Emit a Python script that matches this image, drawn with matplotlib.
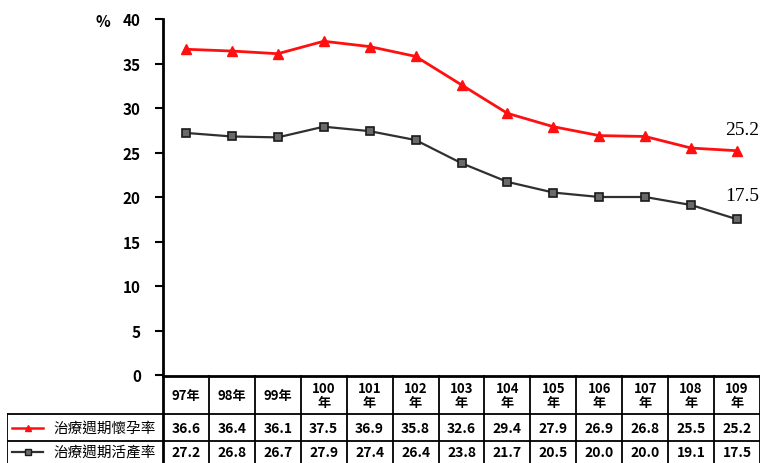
import matplotlib.pyplot as plt

plt.rcParams['font.family'] = ['Noto Sans CJK TC', 'DejaVu Sans']

years = ["97年", "98年", "99年", "100\n年", "101\n年", "102\n年", "103\n年",
         "104\n年", "105\n年", "106\n年", "107\n年", "108\n年", "109\n年"]
pregnancy = [36.6, 36.4, 36.1, 37.5, 36.9, 35.8, 32.6, 29.4, 27.9, 26.9, 26.8, 25.5, 25.2]
live_birth = [27.2, 26.8, 26.7, 27.9, 27.4, 26.4, 23.8, 21.7, 20.5, 20.0, 20.0, 19.1, 17.5]
series_names = ["治療週期懷孕率", "治療週期活產率"]

W, H = 763, 464
fig = plt.figure(figsize=(W / 100, H / 100), dpi=100)

# main line chart, pixel box 163..760 x 20..376
ax = fig.add_axes([163 / W, 1 - 376 / H, (760 - 163) / W, (376 - 20) / H])
x = list(range(len(years)))
ax.plot(x, pregnancy, color='#ff1010', lw=2, marker='^', ms=7, zorder=3)
ax.plot(x, live_birth, color='#303030', lw=1.6, marker='s', ms=5.5,
        mfc='#6a6a6a', mec='#1a1a1a', mew=1.2, zorder=3)
ax.set_xlim(-0.5, len(years) - 0.5)
ax.set_ylim(0, 40)
ax.set_yticks(range(0, 41, 5))
ax.set_xticks([])
for s in ['top', 'right', 'bottom']:
    ax.spines[s].set_visible(False)
ax.spines['left'].set_linewidth(2)
ax.tick_params(axis='y', direction='out', length=6, width=1.5, pad=10)
for lbl in ax.get_yticklabels():
    lbl.set_fontweight('bold')
    lbl.set_fontsize(11)
fig.text(103 / W, 1 - 22 / H, "%", fontsize=11, fontweight='bold', ha='center', va='center')

for vals, dy in ((pregnancy, 21), (live_birth, 24)):
    ax.annotate(f"{vals[-1]:.1f}", (x[-1], vals[-1]), xytext=(4, dy * 0.72),
                textcoords='offset points', ha='center', va='center',
                fontsize=14, family='Liberation Serif')

# data table underneath, y in pixels
px = (760 - 163) / len(years)
left_units = (163 - 7) / px
tx = fig.add_axes([7 / W, 0, (760 - 7) / W, (H - 376) / H])
tx.set_xlim(-0.5 - left_units, len(years) - 0.5)
tx.set_ylim(H, 376)
tx.axis('off')

lw = 1.3
tx.plot([-0.5, len(years) - 0.5], [376.5, 376.5], color='black', lw=2)
for yy in (415, 442):
    tx.plot([-0.5 - left_units, len(years) - 0.5], [yy, yy], color='black', lw=lw)
tx.plot([-0.5 - left_units] * 2, [415, H], color='black', lw=lw)
for k in range(len(years) + 1):
    tx.plot([k - 0.5] * 2, [376, H], color='black', lw=2 if k in (0, len(years)) else lw)

for i, name in enumerate(years):
    tx.text(i, 396, name, ha='center', va='center', fontsize=9.5, fontweight='bold',
            linespacing=1.0)
    tx.text(i, 429, f"{pregnancy[i]:.1f}", ha='center', va='center', fontsize=10,
            fontweight='bold')
    tx.text(i, 453, f"{live_birth[i]:.1f}", ha='center', va='center', fontsize=10,
            fontweight='bold')

# row labels with line samples
lx0 = -0.5 - left_units
tx.plot([lx0 + 5 / px, lx0 + 36 / px], [429, 429], color='#ff1010', lw=1.8)
tx.plot([lx0 + 20.5 / px], [429], color='#ff1010', marker='^', ms=5)
tx.plot([lx0 + 5 / px, lx0 + 36 / px], [453, 453], color='#303030', lw=1.6)
tx.plot([lx0 + 20.5 / px], [453], marker='s', ms=4.5, mfc='#6a6a6a', mec='#1a1a1a')
for yy, name in zip((429, 453), series_names):
    tx.text(lx0 + 46 / px, yy, name, ha='left', va='center',
            fontsize=10.5, fontweight='medium')

fig.savefig("out.png", dpi=100)
